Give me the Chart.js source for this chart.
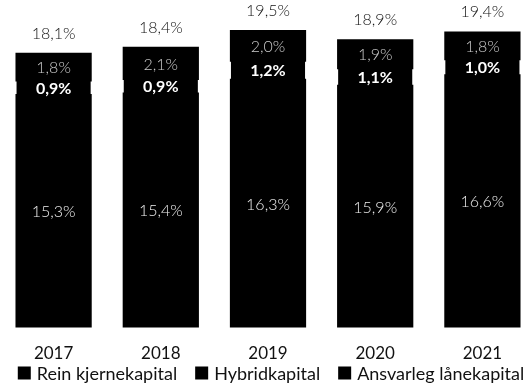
<!DOCTYPE html>
<html>
<head>
<meta charset="utf-8">
<script src="https://cdn.jsdelivr.net/npm/chart.js@4"></script>
<style>
  html, body { margin: 0; padding: 0; background: #fff; overflow: hidden; }
  #wrap { width: 536px; height: 383px; }
</style>
</head>
<body>
<div id="wrap"><canvas id="kapitalChart"></canvas></div>
<script>
const years = ["2017", "2018", "2019", "2020", "2021"];
const reinKjerne = [15.3, 15.4, 16.3, 15.9, 16.6];
const hybrid = [0.9, 0.9, 1.2, 1.1, 1.0];
const ansvarleg = [1.8, 2.1, 2.0, 1.9, 1.8];
const totals = [18.1, 18.4, 19.5, 18.9, 19.4];

const FONT = "Lato, 'Open Sans', sans-serif";

function pct(v) {
  return v.toFixed(1).replace(".", ",") + "%";
}

// writes the segment values inside the bars and the totals on top
const valueLabels = {
  id: "valueLabels",
  afterDatasetsDraw(chart) {
    const ctx = chart.ctx;
    ctx.save();
    ctx.textAlign = "center";
    ctx.textBaseline = "middle";
    chart.data.datasets.forEach((ds, i) => {
      const meta = chart.getDatasetMeta(i);
      meta.data.forEach((bar, j) => {
        const y = (bar.y + bar.base) / 2;
        ctx.font = (ds.labelWeight || "300") + " 16px " + FONT;
        ctx.fillStyle = ds.labelColor || "#fff";
        ctx.fillText(pct(ds.data[j]), bar.x, y + 1);
      });
    });
    // totals above the stack
    const top = chart.getDatasetMeta(chart.data.datasets.length - 1);
    ctx.font = "300 16px " + FONT;
    ctx.fillStyle = "#111";
    top.data.forEach((bar, j) => {
      ctx.fillText(pct(totals[j]), bar.x, bar.y - 20);
    });
    ctx.restore();
  }
};

// one-row legend along the bottom edge, square black keys
const bottomLegend = {
  id: "bottomLegend",
  afterDraw(chart) {
    const ctx = chart.ctx;
    const box = 13, gap = 6, itemGap = 18, y = 373;
    ctx.save();
    ctx.font = "18px " + FONT;
    ctx.textBaseline = "middle";
    const items = chart.data.datasets.map(ds => ({
      text: ds.label,
      w: box + gap + ctx.measureText(ds.label).width
    }));
    const total = items.reduce((s, it) => s + it.w, 0) + itemGap * (items.length - 1);
    let x = 271 - total / 2;
    items.forEach(it => {
      ctx.fillStyle = "#000";
      ctx.fillRect(x, y - box / 2, box, box);
      ctx.fillStyle = "#111";
      ctx.fillText(it.text, x + box + gap, y + 1);
      x += it.w + itemGap;
    });
    ctx.restore();
  }
};

new Chart(document.getElementById("kapitalChart"), {
  type: "bar",
  data: {
    labels: years,
    datasets: [
      {
        label: "Rein kjernekapital",
        data: reinKjerne,
        backgroundColor: "#000",
        labelColor: "#eee"
      },
      {
        label: "Hybridkapital",
        data: hybrid,
        backgroundColor: "#000",
        barPercentage: 0.68,
        labelColor: "#fff",
        labelWeight: "700"
      },
      {
        label: "Ansvarleg lånekapital",
        data: ansvarleg,
        backgroundColor: "#000",
        labelColor: "#ccc"
      }
    ]
  },
  options: {
    responsive: true,
    maintainAspectRatio: false,
    animation: false,
    layout: { padding: { top: 23, left: 0, right: 0, bottom: 11 } },
    datasets: { bar: { barPercentage: 0.7, categoryPercentage: 1.0, inflateAmount: 0.6 } },
    scales: {
      x: {
        stacked: true,
        grid: { display: false },
        border: { display: false },
        ticks: { color: "#111", font: { family: FONT, size: 17 }, padding: 8 }
      },
      y: {
        stacked: true,
        display: false,
        min: 0,
        max: 20
      }
    },
    plugins: {
      legend: { display: false },
      tooltip: { enabled: false }
    }
  },
  plugins: [valueLabels, bottomLegend]
});
</script>
</body>
</html>
